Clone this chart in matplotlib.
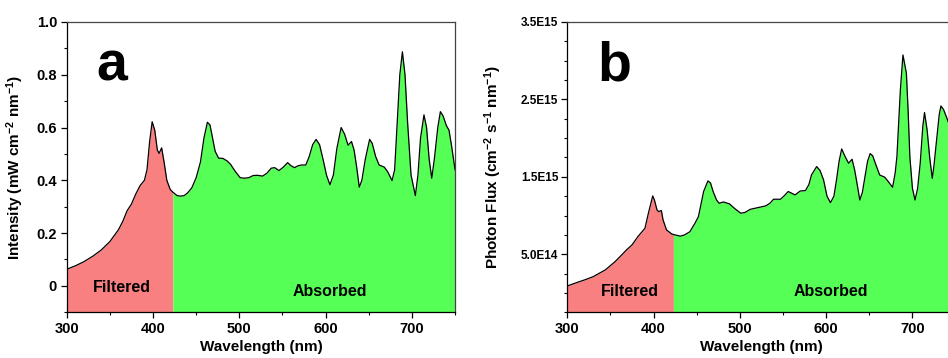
### Packages
import matplotlib
matplotlib.use("Agg")
import matplotlib.pyplot as plt
from matplotlib.ticker import MultipleLocator, FixedLocator

plt.rcParams["font.family"] = ["Liberation Sans", "DejaVu Sans"]
plt.rcParams["font.weight"] = "bold"
plt.rcParams["mathtext.fontset"] = "custom"
plt.rcParams["mathtext.rm"] = "Liberation Sans:bold"
plt.rcParams["mathtext.it"] = "Liberation Sans:bold"
plt.rcParams["mathtext.bf"] = "Liberation Sans:bold"
plt.rcParams["mathtext.default"] = "rm"

## Spectrum data ----------------------

# Lamp intensity (mW cm-2 nm-1)
wl_a = [300, 310, 320, 330, 340, 350, 360, 365, 370, 375, 380, 385, 390, 393,
        396, 399, 402, 405, 407, 410, 413, 416, 420, 423, 428, 432, 436, 440,
        445, 450, 455, 459, 463, 466, 469, 472, 476, 481, 486, 490, 495, 501,
        506, 511, 516, 521, 527, 532, 537, 541, 546, 551, 556, 560, 564, 568,
        572, 577, 581, 585, 589, 593, 597, 601, 605, 609, 613, 618, 622, 626,
        630, 633, 636, 639, 642, 646, 651, 654, 658, 662, 668, 672, 677, 680,
        683, 686, 689, 692, 695, 699, 704, 707, 710, 714, 717, 720, 723, 726,
        730, 733, 736, 740, 743, 746, 750]
int_a = [0.063, 0.076, 0.092, 0.112, 0.136, 0.168, 0.213, 0.245, 0.285, 0.31,
         0.348, 0.38, 0.40, 0.44, 0.545, 0.622, 0.59, 0.515, 0.502, 0.523,
         0.465, 0.40, 0.365, 0.355, 0.342, 0.340, 0.342, 0.352, 0.372, 0.41,
         0.47, 0.56, 0.62, 0.61, 0.56, 0.51, 0.484, 0.483, 0.473, 0.46, 0.435,
         0.41, 0.408, 0.41, 0.418, 0.419, 0.416, 0.427, 0.446, 0.448, 0.437,
         0.45, 0.467, 0.455, 0.448, 0.455, 0.458, 0.458, 0.49, 0.535, 0.555,
         0.535, 0.48, 0.42, 0.383, 0.42, 0.52, 0.60, 0.575, 0.533, 0.547,
         0.515, 0.45, 0.374, 0.40, 0.48, 0.555, 0.54, 0.49, 0.458, 0.45,
         0.432, 0.399, 0.44, 0.62, 0.80, 0.887, 0.80, 0.62, 0.42, 0.342, 0.42,
         0.56, 0.648, 0.60, 0.48, 0.408, 0.48, 0.60, 0.66, 0.645, 0.607, 0.59,
         0.53, 0.44]

# Photon flux, in units of 1E15 cm-2 s-1 nm-1
wl_b = [300, 310, 320, 330, 344, 355, 363, 369, 375, 382, 390, 394, 399, 401,
        404, 406, 409, 411, 415, 421, 423, 431, 436, 442, 448, 452, 458, 463,
        466, 469, 473, 476, 481, 488, 494, 501, 506, 512, 523, 530, 535, 539,
        547, 551, 556, 564, 570, 576, 580, 583, 589, 593, 597, 601, 605, 609,
        612, 615, 618, 622, 626, 630, 633, 636, 639, 642, 645, 648, 651, 654,
        657, 662, 668, 672, 677, 680, 682, 686, 689, 693, 695, 697, 700, 703,
        706, 709, 712, 714, 717, 720, 723, 725, 728, 731, 733, 736, 740, 745,
        750]
flux_b = [0.09, 0.13, 0.168, 0.21, 0.297, 0.40, 0.49, 0.56, 0.62, 0.73, 0.835,
          1.03, 1.253, 1.20, 1.072, 1.05, 1.065, 0.943, 0.814, 0.762, 0.755,
          0.733, 0.75, 0.79, 0.90, 0.986, 1.31, 1.447, 1.42, 1.31, 1.20, 1.158,
          1.175, 1.15, 1.09, 1.03, 1.04, 1.08, 1.107, 1.124, 1.16, 1.21, 1.21,
          1.25, 1.31, 1.266, 1.317, 1.322, 1.40, 1.524, 1.632, 1.58, 1.46,
          1.25, 1.166, 1.25, 1.46, 1.70, 1.86, 1.76, 1.675, 1.727, 1.59, 1.40,
          1.20, 1.30, 1.502, 1.70, 1.80, 1.77, 1.675, 1.524, 1.494, 1.438,
          1.365, 1.55, 1.76, 2.62, 3.074, 2.837, 2.35, 1.76, 1.35, 1.20, 1.35,
          1.675, 2.15, 2.33, 2.105, 1.75, 1.48, 1.65, 1.976, 2.30, 2.415, 2.37,
          2.256, 2.10, 1.75]

cutoff = 423
yticks_b = [0.5, 1.5, 2.5, 3.5]
yticks_b_labels = ["5.0E14", "1.5E15", "2.5E15", "3.5E15"]

RED = "#F88080"
GREEN = "#55FF55"

## Plot helper -------------------------


def spectrum_panel(ax, wl, vals, ybottom, letter):
    """Filled spectrum split into filtered / absorbed regions"""
    lo = [w <= cutoff for w in wl]
    hi = [w >= cutoff for w in wl]
    ax.fill_between(wl, ybottom, vals, where=lo, color=RED, lw=0)
    ax.fill_between(wl, ybottom, vals, where=hi, color=GREEN, lw=0)
    ax.plot(wl, vals, color="black", lw=0.9)
    ax.set_xlim(300, 750)
    ax.xaxis.set_major_locator(MultipleLocator(100))
    ax.xaxis.set_minor_locator(MultipleLocator(50))
    ax.tick_params(which="major", direction="out", length=4, width=0.9,
                   labelsize=10.5, pad=3, top=False, right=False)
    ax.tick_params(which="minor", direction="out", length=2.5, width=0.8,
                   top=False, right=False)
    for s in ["top", "right"]:
        ax.spines[s].set_color("#444444")
    for s in ax.spines.values():
        s.set_linewidth(0.9)
    ax.set_xlabel("Wavelength (nm)", fontsize=11, fontweight="bold")
    ax.xaxis.set_label_coords(0.5, -0.095)
    ax.text(0.077, 0.80, letter, transform=ax.transAxes, fontsize=40,
            fontweight="bold", ha="left", va="baseline")


fig = plt.figure(figsize=(9.48, 3.58), dpi=100)
ax_a = fig.add_axes([0.0704, 0.1277, 0.4096, 0.811])
ax_b = fig.add_axes([0.5984, 0.1277, 0.4096, 0.811])

# Panel a: intensity
spectrum_panel(ax_a, wl_a, int_a, -0.1, "a")
ax_a.set_ylim(-0.1, 1.0)
ax_a.yaxis.set_major_locator(FixedLocator([0, 0.2, 0.4, 0.6, 0.8, 1.0]))
ax_a.yaxis.set_minor_locator(MultipleLocator(0.1))
ax_a.set_yticklabels(["0", "0.2", "0.4", "0.6", "0.8", "1.0"])
ax_a.set_ylabel("Intensity (mW cm$^{-2}$ nm$^{-1}$)", fontsize=11,
                fontweight="bold")
ax_a.yaxis.set_label_coords(-0.105, 0.5)
ax_a.text(0.142, 0.086, "Filtered", transform=ax_a.transAxes,
          fontsize=11.5, fontweight="bold", ha="center", va="center")
ax_a.text(0.678, 0.073, "Absorbed", transform=ax_a.transAxes,
          fontsize=11.5, fontweight="bold", ha="center", va="center")

# Panel b: photon flux
spectrum_panel(ax_b, wl_b, flux_b, -0.25, "b")
ax_b.set_ylim(-0.25, 3.5)
ax_b.yaxis.set_major_locator(FixedLocator(yticks_b))
ax_b.yaxis.set_minor_locator(MultipleLocator(0.25))
ax_b.set_yticklabels(yticks_b_labels)
ax_b.tick_params(axis="y", which="major", labelsize=8.5, pad=2.5)
ax_b.set_ylabel("Photon Flux (cm$^{-2}$ s$^{-1}$ nm$^{-1}$)", fontsize=11,
                fontweight="bold")
ax_b.yaxis.set_label_coords(-0.163, 0.5)
ax_b.text(0.16, 0.071, "Filtered", transform=ax_b.transAxes,
          fontsize=11.5, fontweight="bold", ha="center", va="center")
ax_b.text(0.678, 0.071, "Absorbed", transform=ax_b.transAxes,
          fontsize=11.5, fontweight="bold", ha="center", va="center")

fig.savefig("out.png", dpi=100)
